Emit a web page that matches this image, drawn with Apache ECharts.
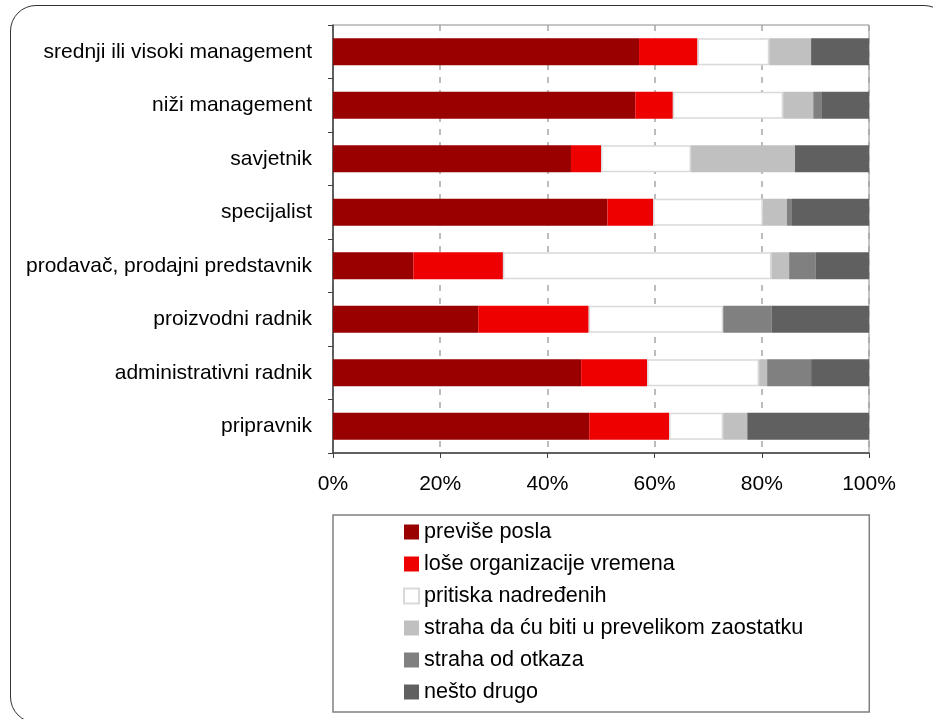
<!DOCTYPE html>
<html>
<head>
<meta charset="utf-8">
<title>Izvor stresa po radnom mjestu</title>
<script src="https://cdn.jsdelivr.net/npm/echarts@6/dist/echarts.min.js"></script>
<style>
  html, body {
    margin: 0;
    padding: 0;
    background: #fff;
  }
  .frame {
    position: absolute;
    left: 10px;
    top: 5px;
    width: 940px;
    height: 718px;
    border: 1.5px solid #333;
    border-radius: 26px;
    box-sizing: border-box;
  }
  #chart {
    position: absolute;
    left: 0;
    top: 0;
    width: 933px;
    height: 719px;
  }
</style>
</head>
<body>
<div class="frame"></div>
<div id="chart"></div>
<script>
// radna mjesta, odozgo prema dolje
const categories = [
  'srednji ili visoki management',
  'niži management',
  'savjetnik',
  'specijalist',
  'prodavač, prodajni predstavnik',
  'proizvodni radnik',
  'administrativni radnik',
  'pripravnik'
]

const seriesNames = [
  'previše posla',
  'loše organizacije vremena',
  'pritiska nadređenih',
  'straha da ću biti u prevelikom zaostatku',
  'straha od otkaza',
  'nešto drugo'
]

// postoci, procijenjeni sa slike
const previsePosla = [57.1, 56.4, 44.4, 51.2, 15.0, 27.1, 46.3, 47.8]
const loseOrganizacije = [10.9, 7.0, 5.6, 8.5, 16.7, 20.6, 12.3, 14.9]
const pritiskaNadredenih = [13.4, 20.6, 16.8, 20.5, 50.1, 25.1, 20.9, 10.1]
const strahaZaostatak = [7.8, 5.6, 19.4, 4.5, 3.3, 0, 1.5, 4.5]
const strahaOtkaz = [0, 1.5, 0, 0.8, 4.9, 9.0, 8.2, 0]
const nestoDrugo = [10.8, 8.9, 13.8, 14.5, 10.0, 18.2, 10.8, 22.7]

const xTicks = [0, 20, 40, 60, 80, 100]

const values = [previsePosla, loseOrganizacije, pritiskaNadredenih, strahaZaostatak, strahaOtkaz, nestoDrugo]
const colors = ['#990000', '#ee0000', '#ffffff', '#c0c0c0', '#808080', '#606060']

const font = '"Liberation Sans", Arial, sans-serif'

const chart = echarts.init(document.getElementById('chart'))

const option = {
  animation: false,
  textStyle: { fontFamily: font },
  grid: {
    left: 333,
    right: 64,
    top: 25,
    bottom: 266,
    show: true,
    borderColor: '#8c8c8c',
    borderWidth: 1
  },
  xAxis: {
    type: 'value',
    min: xTicks[0],
    max: xTicks[xTicks.length - 1],
    interval: xTicks[1] - xTicks[0],
    axisLine: { show: true, lineStyle: { color: '#404040', width: 1.5 } },
    axisTick: { show: true, length: 5, lineStyle: { color: '#404040' } },
    axisLabel: {
      formatter: '{value}%',
      color: '#000',
      fontSize: 21,
      fontFamily: font,
      margin: 21
    },
    splitLine: {
      show: true,
      lineStyle: { color: '#a6a6a6', type: [6, 7], width: 1.5 }
    }
  },
  yAxis: {
    type: 'category',
    data: categories,
    inverse: true,
    axisLine: { show: true, lineStyle: { color: '#404040', width: 1.5 } },
    axisTick: { show: true, length: 5, lineStyle: { color: '#404040' } },
    axisLabel: {
      color: '#000',
      fontSize: 21,
      fontFamily: font,
      margin: 21
    },
    splitLine: { show: false }
  },
  legend: {
    orient: 'vertical',
    left: 333,
    top: 515,
    padding: [6, 66, 9, 70],
    borderColor: '#808080',
    borderWidth: 1.5,
    itemWidth: 15,
    itemHeight: 15,
    itemGap: 10,
    icon: 'rect',
    textStyle: {
      color: '#000',
      fontSize: 21.6,
      lineHeight: 22,
      fontFamily: font
    },
    data: seriesNames
  },
  series: seriesNames.map((name, i) => ({
    name: name,
    type: 'bar',
    stack: 'ukupno',
    barWidth: 27,
    data: values[i],
    itemStyle: {
      color: colors[i],
      borderColor: i === 2 ? '#d9d9d9' : colors[i],
      borderWidth: i === 2 ? 1.5 : 0
    }
  }))
}

chart.setOption(option)
</script>
</body>
</html>
